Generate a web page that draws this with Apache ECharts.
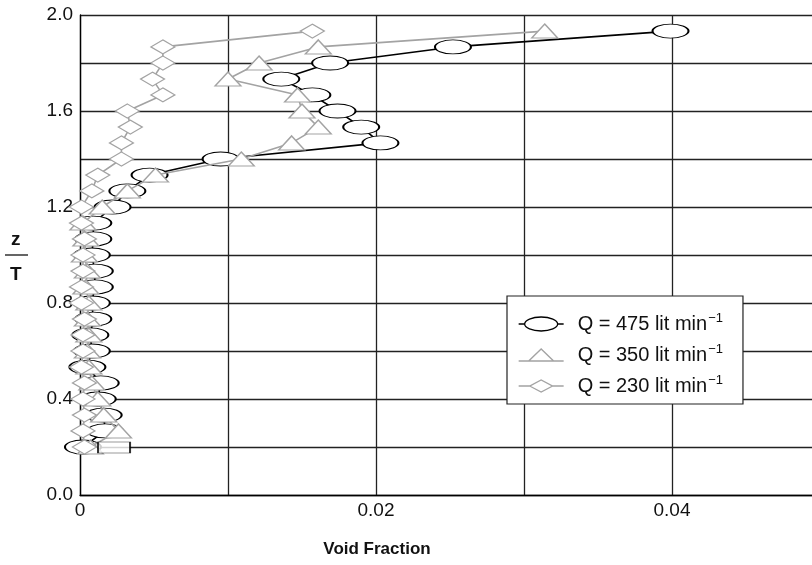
<!DOCTYPE html>
<html>
<head>
<meta charset="utf-8">
<script src="https://cdn.jsdelivr.net/npm/echarts@6/dist/echarts.min.js"></script>
<style>
  html, body { margin: 0; padding: 0; background: #fff; }
  #chart { width: 812px; height: 565px; }
</style>
</head>
<body>
<div id="chart"></div>
<script>
// Dimensionless height z/T of each measuring level (top to bottom)
const zLevels = [1.933, 1.867, 1.8, 1.733, 1.667, 1.6, 1.533, 1.467, 1.4, 1.333, 1.267, 1.2, 1.133,
                 1.067, 1.0, 0.933, 0.867, 0.8, 0.733, 0.667, 0.6, 0.533, 0.467, 0.4, 0.333, 0.267, 0.2];

// Local void fraction at each level
const void475 = [0.0399, 0.0252, 0.0169, 0.0136, 0.0157, 0.0174, 0.0190, 0.0203, 0.0095, 0.0047, 0.0032, 0.0022, 0.0009,
                 0.0009, 0.0008, 0.0010, 0.0010, 0.0008, 0.0009, 0.0007, 0.0008, 0.0005, 0.0014, 0.0012, 0.0016, 0.0017, 0.0002];
const void350 = [0.0314, 0.0161, 0.0121, 0.0100, 0.0147, 0.0150, 0.0161, 0.0143, 0.0109, 0.0051, 0.0032, 0.0015, 0.0002,
                 0.0004, 0.0003, 0.0005, 0.0004, 0.0006, 0.0005, 0.0006, 0.0005, 0.0006, 0.0008, 0.0012, 0.0016, 0.0026, 0.0007];
const void230 = [0.0157, 0.0056, 0.0056, 0.0049, 0.0056, 0.0032, 0.0034, 0.0028, 0.0028, 0.0012, 0.0008, 0.0001, 0.0001,
                 0.0003, 0.0002, 0.0002, 0.0001, 0.0001, 0.0003, 0.0002, 0.0002, 0.0001, 0.0003, 0.0002, 0.0003, 0.0002, 0.0003];

// Stray box marker near the lowest level
const boxMark = [[0.0023, 0.198]];

const flowRates = ['475', '350', '230'];
const xTickLabels = { 0: '0', 2: '0.02', 4: '0.04' };
const yTickLabels = { 0: '0.0', 2: '0.4', 4: '0.8', 6: '1.2', 8: '1.6', 10: '2.0' };

const FONT = 'Liberation Sans, Arial, Helvetica, sans-serif';
const GREY = '#a3a3a3';
const ELLIPSE = 'path://M0,7 A18,7 0 1,1 36,7 A18,7 0 1,1 0,7 Z';
const LEG_ELLIPSE = 'path://M0,7 L6,7 M6,7 A16.5,7 0 1,1 39,7 A16.5,7 0 1,1 6,7 Z M39,7 L45,7';
const LEG_TRI = 'path://M0,13 L10,13 L22.5,1 L35,13 L45,13 M10,13 L35,13';
const LEG_DIA = 'path://M0,7 L11,7 L22.5,1 L34,7 L45,7 M11,7 L22.5,13 L34,7';

const pair = (xs) => xs.map((v, i) => [v, zLevels[i]]);

const chart = echarts.init(document.getElementById('chart'), null, { renderer: 'canvas' });

const legendLabel = (q) => '{a|Q = ' + q + ' lit min}{s|\u22121}';

chart.setOption({
  animation: false,
  backgroundColor: '#fff',
  textStyle: { fontFamily: FONT },
  // plot runs past the right edge of the canvas (0.05 falls just outside)
  grid: { left: 80, top: 15, width: 740, bottom: 70, containLabel: false, outerBoundsMode: 'none' },
  xAxis: {
    type: 'value', min: 0, max: 0.05, interval: 0.01,
    name: 'Void Fraction', nameLocation: 'middle', nameGap: 46,
    nameTextStyle: { fontFamily: FONT, fontSize: 17, fontWeight: 'bold', color: '#111', padding: [0, 146, 0, 0] },
    axisLine: { show: true, lineStyle: { color: '#000', width: 1.3 } },
    axisTick: { show: false },
    axisLabel: {
      fontFamily: FONT, fontSize: 19, color: '#111', margin: 6,
      formatter: (v) => xTickLabels[Math.round(v * 100)] || ''
    },
    splitLine: { show: true, lineStyle: { color: '#222', width: 1.3 } }
  },
  yAxis: {
    type: 'value', min: 0, max: 2, interval: 0.2,
    axisLine: { show: true, lineStyle: { color: '#000', width: 1.3 } },
    axisTick: { show: false },
    axisLabel: {
      fontFamily: FONT, fontSize: 19, color: '#111', margin: 7,
      formatter: (v) => yTickLabels[Math.round(v * 5)] || ''
    },
    splitLine: { show: true, lineStyle: { color: '#222', width: 1.3 } }
  },
  legend: {
    orient: 'vertical', left: 507, top: 296,
    padding: [16, 20, 8, 11], itemGap: 9, itemWidth: 45, itemHeight: 14,
    backgroundColor: '#fff', borderColor: '#222', borderWidth: 1.2,
    data: [
      { name: 'Q475', icon: LEG_ELLIPSE, itemStyle: { color: '#fff', borderColor: '#000', borderWidth: 1.3 } },
      { name: 'Q350', icon: LEG_TRI, itemStyle: { color: '#fff', borderColor: GREY, borderWidth: 1.3 } },
      { name: 'Q230', icon: LEG_DIA, itemStyle: { color: '#fff', borderColor: GREY, borderWidth: 1.3 } }
    ],
    formatter: (name) => legendLabel(name.slice(1)),
    textStyle: {
      rich: {
        a: { fontFamily: FONT, fontSize: 20, color: '#111', padding: [0, 0, 0, 9] },
        s: { fontFamily: FONT, fontSize: 13, color: '#111', padding: [0, 0, 11, 1] }
      }
    }
  },
  series: [
    {
      name: 'Q' + flowRates[0], type: 'line', data: pair(void475),
      symbol: ELLIPSE, symbolSize: [36, 14], z: 2,
      lineStyle: { color: '#000', width: 1.6 },
      itemStyle: { color: '#fff', borderColor: '#000', borderWidth: 1.3 }
    },
    {
      name: 'Q' + flowRates[1], type: 'line', data: pair(void350),
      symbol: 'triangle', symbolSize: [26, 14], z: 3,
      lineStyle: { color: GREY, width: 1.6 },
      itemStyle: { color: '#fff', borderColor: GREY, borderWidth: 1.3 }
    },
    {
      name: 'Q' + flowRates[2], type: 'line', data: pair(void230),
      symbol: 'diamond', symbolSize: [24, 14], z: 4,
      lineStyle: { color: GREY, width: 1.6 },
      itemStyle: { color: '#fff', borderColor: GREY, borderWidth: 1.3 }
    },
    {
      name: 'box', type: 'scatter', data: boxMark,
      symbol: 'rect', symbolSize: [32, 11], z: 5,
      itemStyle: { color: '#fff', borderColor: '#000', borderWidth: 1.2 }
    }
  ],
  graphic: [
    { type: 'text', left: 11, top: 230, style: { text: 'z', font: 'bold 19px ' + FONT, fill: '#111' } },
    { type: 'line', shape: { x1: 5, y1: 255, x2: 28, y2: 255 }, style: { stroke: '#111', lineWidth: 1.3 } },
    { type: 'text', left: 10, top: 265, style: { text: 'T', font: 'bold 19px ' + FONT, fill: '#111' } }
  ]
});
</script>
</body>
</html>
